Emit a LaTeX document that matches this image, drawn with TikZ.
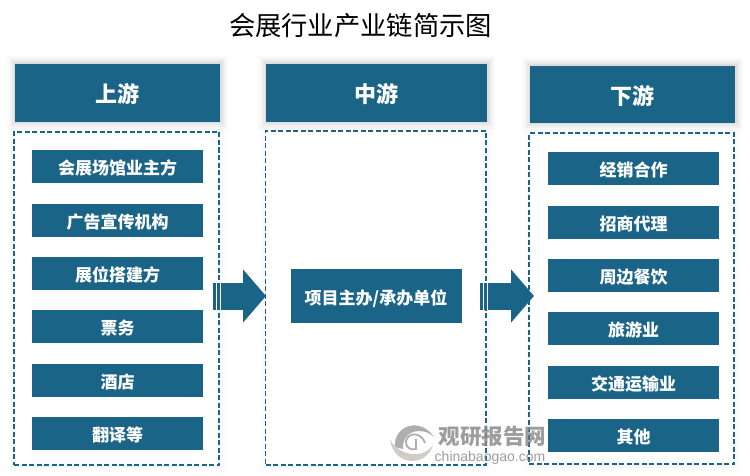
\documentclass[tikz,border=0pt]{standalone}
\usepackage{fontspec}
\setmainfont{Noto Sans CJK SC}
\setsansfont{Liberation Sans}
\usetikzlibrary{arrows.meta,shadows}
\definecolor{blockblue}{HTML}{1A6587}
\definecolor{markgray}{HTML}{8C8C8C}
\definecolor{markbeige}{HTML}{D0CDC5}
\tikzset{
    softglow/.style={
        general shadow={fill=black,draw=black,solid,line width=16pt,opacity=.018,yshift=2pt},
        general shadow={fill=black,draw=black,solid,line width=11pt,opacity=.03,yshift=2pt},
        general shadow={fill=black,draw=black,solid,line width=7pt,opacity=.04,yshift=2pt},
        general shadow={fill=black,draw=black,solid,line width=3pt,opacity=.05,yshift=2pt}},
    faintglow/.style={
        general shadow={fill=black,draw=black,solid,line width=14pt,opacity=.008},
        general shadow={fill=black,draw=black,solid,line width=7pt,opacity=.012}},
    headbox/.style={fill=blockblue,text=white,softglow,inner sep=0pt,text height=22.4pt,text depth=2.6pt,font=\fontsize{22}{22}\selectfont\bfseries},
    panelbox/.style={draw=blockblue,fill=white,faintglow,line width=1.7pt,dash pattern=on 5pt off 2.5pt,inner sep=0pt},
    itembox/.style={fill=blockblue,text=white,inner sep=0pt,minimum width=171pt,minimum height=33pt,text height=18pt,text depth=2pt,font=\fontsize{17}{17}\selectfont\bfseries},
    barbox/.style={fill=blockblue,inner sep=0pt,minimum width=3pt,minimum height=27pt},
    bigarrow/.style={blockblue,line width=27pt,-{Triangle[length=23pt,width=52pt]}}
}
\begin{document}
\begin{tikzpicture}[x=1pt,y=-1pt,
    every node/.append style={align=center}]
    \useasboundingbox (0,0) rectangle (750,476);
    \node (title) at (360.5,25.5) {\fontsize{26.3}{26.3}\selectfont 会展行业产业链简示图};
    % panels behind everything
    \node[panelbox,minimum width=205pt,minimum height=333pt] (upperpanel) at (116.8,298.5) {};
    \node[panelbox,minimum width=220.5pt,minimum height=334pt] (middlepanel) at (375.8,298) {};
    \node[panelbox,minimum width=205pt,minimum height=331pt] (lowerpanel) at (631.8,298.8) {};
    % headers
    \node[headbox,minimum width=205pt,minimum height=58pt] (upperhead) at (117.5,93) {上游};
    \node[headbox,minimum width=221pt,minimum height=58pt] (middlehead) at (376.5,93) {中游};
    \node[headbox,minimum width=205pt,minimum height=57pt] (lowerhead) at (632.5,94.5) {下游};
    % left column
    \node[itembox] (venue) at (117.5,166.5) {会展场馆业主方};
    \node[itembox] (advert) at (117.5,220) {广告宣传机构};
    \node[itembox] (booth) at (117.5,273) {展位搭建方};
    \node[itembox] (ticket) at (117.5,326.5) {票务};
    \node[itembox] (hotel) at (117.5,380) {酒店};
    \node[itembox] (translate) at (117.5,433) {翻译等};
    % middle
    \node[itembox,minimum height=54pt] (organizer) at (376,296) {项目主办/承办单位};
    % right column
    \node[itembox] (dealer) at (633.5,168.5) {经销合作};
    \node[itembox] (agent) at (633.5,222) {招商代理};
    \node[itembox] (dining) at (633.5,275) {周边餐饮};
    \node[itembox] (tourism) at (633.5,328.5) {旅游业};
    \node[itembox] (transport) at (633.5,382) {交通运输业};
    \node[itembox] (others) at (633.5,435) {其他};
    % block arrows
    \node[barbox] (barA) at (214.5,296) {};
    \node[barbox] (barB) at (218.5,296) {};
    \coordinate (arrowAstart) at (221,296);
    \coordinate (arrowAtip) at (266,296);
    \draw[bigarrow] (arrowAstart) -- (arrowAtip);
    \node[barbox] (barC) at (481.5,296) {};
    \node[barbox] (barD) at (485.5,296) {};
    \coordinate (arrowBstart) at (488,296);
    \coordinate (arrowBtip) at (534,296);
    \draw[bigarrow] (arrowBstart) -- (arrowBtip);
    % watermark
    \fill[markgray,opacity=.7] (395,447) .. controls (393,426) and (420,416) .. (434,437)
        .. controls (422,426) and (402,430) .. (403,449) -- cycle;
    \fill[markbeige] (390,440) .. controls (394,466) and (426,468) .. (433,445)
        .. controls (424,458) and (402,458) .. (390,440) -- cycle;
    \draw[markgray,opacity=.7,line width=1.8pt] (425,443) .. controls (422,433) and (409,431) .. (406,441)
        .. controls (405,447) and (411,451) .. (416,449) -- (416,439);
    \node[text=markgray,opacity=.85,inner sep=0pt] (markcn) at (492.5,436) {\fontsize{21.5}{21.5}\selectfont\bfseries 观研报告网};
    \node[text=markgray,opacity=.85,inner sep=0pt] (markurl) at (490,458) {\sffamily\fontsize{14}{14}\selectfont chinabaogao.com};
\end{tikzpicture}
\end{document}
